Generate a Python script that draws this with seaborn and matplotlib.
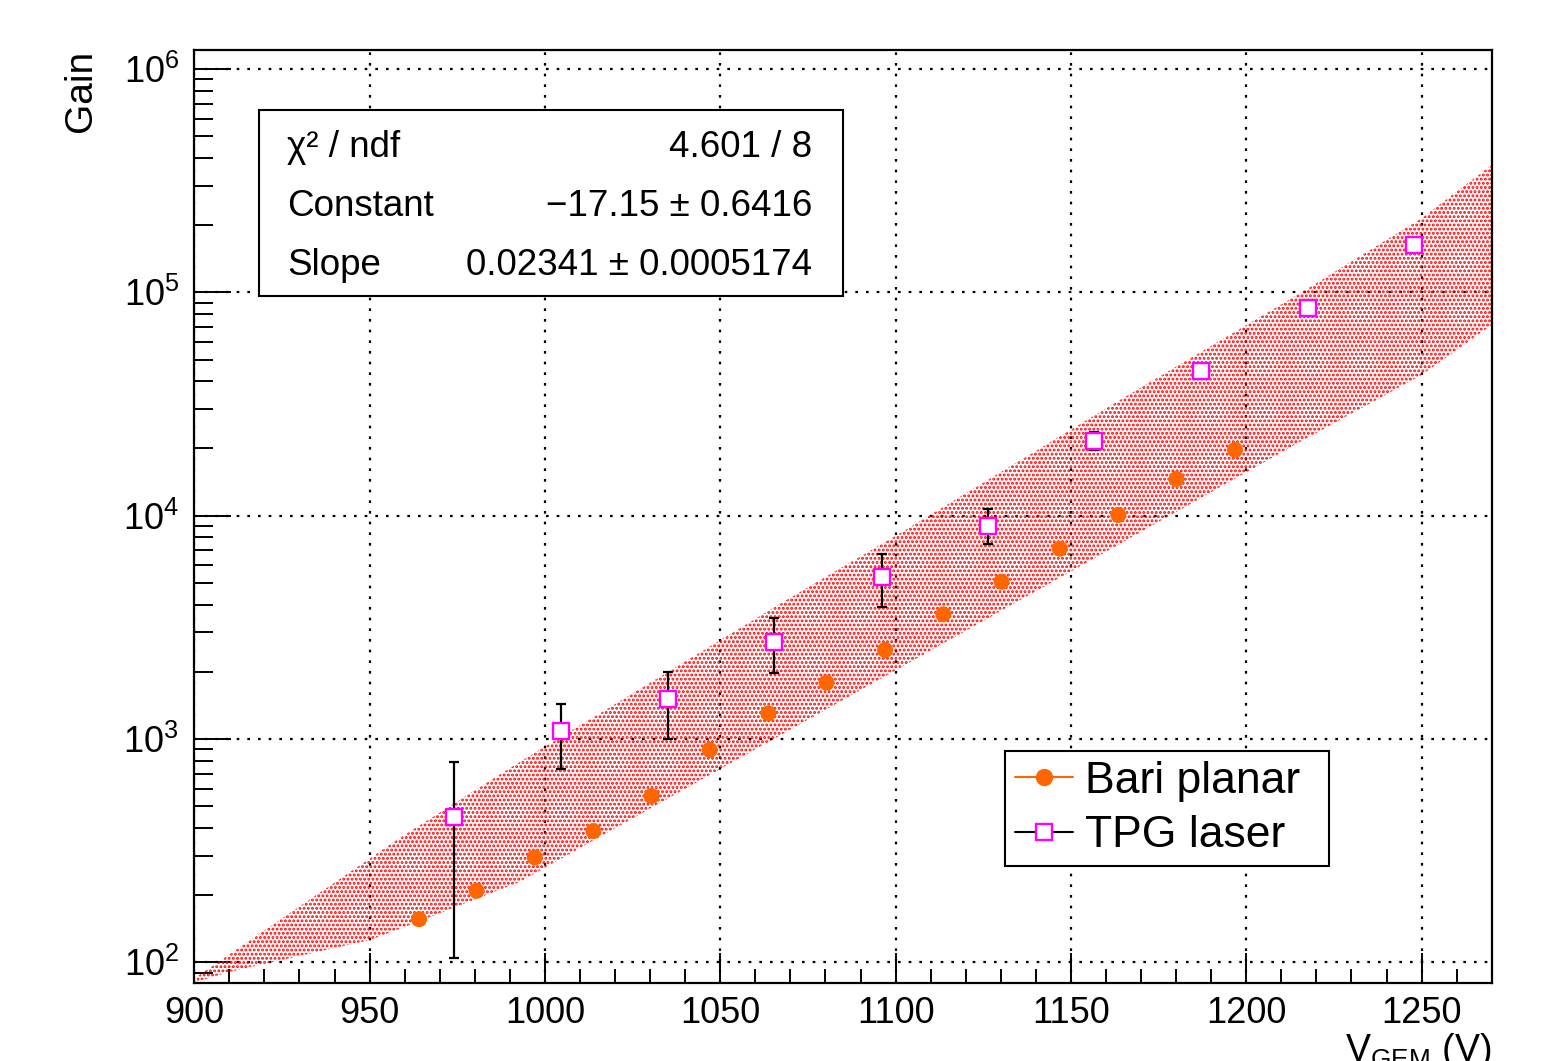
import matplotlib
matplotlib.use("Agg")
import numpy as np
import matplotlib.pyplot as plt
import seaborn as sns
from matplotlib.lines import Line2D
from matplotlib.patches import Rectangle
from matplotlib.ticker import MultipleLocator, LogLocator, NullFormatter

# Bari planar gain scan
bari_v = [964.1, 980.5, 997.1, 1013.8, 1030.4, 1047.0, 1063.7, 1080.3,
          1097.0, 1113.6, 1130.2, 1146.8, 1163.5, 1180.1, 1196.8]
bari_gain = [156, 209, 295, 387, 555, 893, 1303, 1787,
             2503, 3617, 5063, 7117, 10070, 14600, 19700]

# TPG laser gain scan (error bars only visible on the first 7 points)
tpg_v = [974.1, 1004.6, 1035.1, 1065.3, 1096.0, 1126.4, 1156.7, 1187.1, 1217.5, 1247.9]
tpg_gain = [449, 1086, 1506, 2728, 5332, 9020, 21670, 44460, 85400, 163100]
tpg_hi = [787, 1435, 2002, 3494, 6738, 10716, 23780]
tpg_lo = [104, 734, 1000, 1981, 3913, 7470, 19700]

# fit band edges
band_v = [900.7, 910.2, 950.1, 957.7, 992.9, 1068.9, 1101.2, 1164.0, 1215.3, 1250.0, 1270.0]
band_hi = [86.2, 109, 292, 353, 791, 4193, 8341, 32970, 99080, 214700, 372000]
band_lo = [81.9, 90.8, 125.9, 139.5, 229.6, 1078, 2080, 7492, 21390, 42670, 71450]

fit_rows = [("χ² / ndf", "4.601 / 8"),
            ("Constant", "−17.15 ± 0.6416"),
            ("Slope", "0.02341 ± 0.0005174")]

sns.set_theme(style="white")
plt.rcParams["font.family"] = ["Liberation Sans", "DejaVu Sans"]
plt.rcParams["mathtext.fontset"] = "custom"
plt.rcParams["mathtext.rm"] = "Liberation Sans"
plt.rcParams["mathtext.it"] = "Liberation Sans:italic"
plt.rcParams["mathtext.bf"] = "Liberation Sans:bold"
for k in ["text.color", "axes.labelcolor", "xtick.color", "ytick.color", "axes.edgecolor"]:
    plt.rcParams[k] = "black"
plt.rcParams["hatch.linewidth"] = 1.4

fig = plt.figure(figsize=(15.42, 10.61), dpi=100)
ax = fig.add_axes([0.126, 0.0732, 0.8414, 0.8797])

ax.fill_between(band_v, band_lo, band_hi, facecolor="none", edgecolor="red",
                hatch="....", linewidth=0, zorder=2)

tpg_g = np.array(tpg_gain[:len(tpg_hi)])
yerr = [tpg_g - np.array(tpg_lo), np.array(tpg_hi) - tpg_g]
ax.errorbar(tpg_v[:len(tpg_hi)], tpg_g, yerr=yerr, fmt="none", ecolor="black",
            elinewidth=1.6, capsize=3.6, capthick=1.6, zorder=3)

sns.scatterplot(x=bari_v, y=bari_gain, ax=ax, color="#ff6600", marker="o",
                s=11.5 ** 2, edgecolor="none", zorder=4)
sns.scatterplot(x=tpg_v, y=tpg_gain, ax=ax, color="white", marker="s",
                s=11.5 ** 2, edgecolor="#ff00ff", linewidth=1.7, zorder=5)

ax.set_yscale("log")
ax.set_xlim(900, 1270)
ax.set_ylim(80.5, 1.218e6)
ax.xaxis.set_major_locator(MultipleLocator(50))
ax.xaxis.set_minor_locator(MultipleLocator(10))
ax.yaxis.set_major_locator(LogLocator(base=10))
ax.yaxis.set_minor_locator(LogLocator(base=10, subs=np.arange(2, 10)))
ax.yaxis.set_minor_formatter(NullFormatter())

ax.tick_params(which="both", direction="in", top=False, right=False,
               left=True, bottom=True, width=1.4)
ax.tick_params(axis="x", which="major", length=21.6, pad=9, labelsize=26)
ax.tick_params(axis="x", which="minor", length=10)
ax.tick_params(axis="y", which="major", length=26.6, pad=11, labelsize=26)
ax.tick_params(axis="y", which="minor", length=13.7)
for s in ax.spines.values():
    s.set_linewidth(1.6)
    s.set_color("black")

ax.grid(True, which="major", color="black", linestyle=(0, (1.2, 3.6)), linewidth=1.6)
ax.set_axisbelow(True)

ax.set_ylabel("Gain", loc="top", fontsize=28, labelpad=17)
ax.set_xlabel(r"$\mathregular{V_{GEM}}$ (V)", loc="right", fontsize=27, labelpad=0)

# fit statistics box
ax.add_patch(Rectangle((259 / 1542, 1 - 296 / 1061), 584 / 1542, 186 / 1061,
                       transform=fig.transFigure, facecolor="white",
                       edgecolor="black", linewidth=1.5, zorder=10, clip_on=False))
for (name, val), yb in zip(fit_rows, [0.852, 0.7964, 0.7408]):
    fig.text(287 / 1542, yb, name, fontsize=26.5, va="baseline", ha="left", zorder=11)
    fig.text(812 / 1542, yb, val, fontsize=26.5, va="baseline", ha="right", zorder=11)

handles = [Line2D([], [], color="#ff6600", marker="o", markersize=11.5, lw=1.5),
           Line2D([], [], color="black", marker="s", markersize=11.5,
                  markerfacecolor="white", markeredgecolor="#ff00ff",
                  markeredgewidth=1.7, lw=1.5)]
leg = ax.legend(handles, ["Bari planar", "TPG laser"], loc="upper left",
                bbox_to_anchor=(1005 / 1542, 0.1838, 324 / 1542, 0.1084),
                bbox_transform=fig.transFigure, mode="expand", fontsize=32,
                frameon=True, fancybox=False, framealpha=1, edgecolor="black",
                borderaxespad=0, borderpad=0.22, handlelength=1.3,
                handletextpad=0.28, labelspacing=0.3)
leg.get_frame().set_linewidth(1.5)
leg.set_zorder(12)

fig.savefig("out.png", dpi=100)
